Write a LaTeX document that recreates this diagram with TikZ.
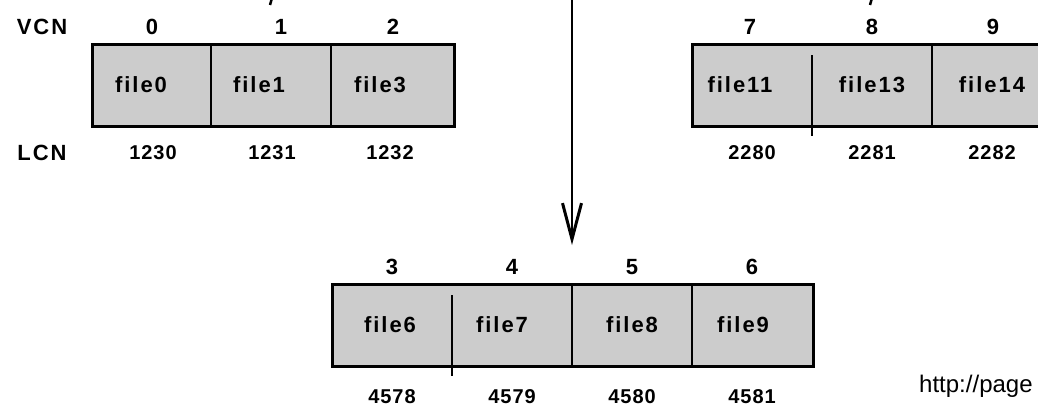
\documentclass[tikz,border=0pt]{standalone}
\usepackage{fontspec}
\setmainfont{Liberation Sans}
\newfontfamily\widesans[LetterSpace=9]{Liberation Sans}
\newfontfamily\numsans[LetterSpace=5]{Liberation Sans}
\usetikzlibrary{arrows.meta}
\definecolor{cellgray}{HTML}{CCCCCC}
\tikzset{
  runbox/.style={draw, line width=3pt, fill=cellgray, rectangle, inner sep=0pt, anchor=north west, minimum height=82pt},
  divider/.style={line width=1.6pt},
  lbl/.style={font=\widesans\fontsize{22}{25}\selectfont\bfseries, inner sep=0pt},
  lcnnum/.style={font=\numsans\fontsize{20}{23}\selectfont\bfseries, inner sep=0pt},
  tickmark/.style={line width=2.5pt},
  mapline/.style={line width=1.2pt, -{Straight Barb[length=36pt,width=19pt,line width=3pt]}},
}
\begin{document}
\begin{tikzpicture}[x=1pt, y=-1pt]
\useasboundingbox (0,0) rectangle (1038,407);
\clip (0,0) rectangle (1038,407);

% row captions
\node[lbl] (vcn) at (42,27) {VCN};
\node[lbl] (lcn) at (42,153) {LCN};

% first run: VCN 0-2
\node[runbox, minimum width=362pt] (runA) at (91,43) {};
\draw[divider] ([xshift=120pt]runA.north west) -- ([xshift=120pt]runA.south west);
\draw[divider] ([xshift=240pt]runA.north west) -- ([xshift=240pt]runA.south west);
\node[lbl] (v0) at (152,27) {0};
\node[lbl] (v1) at (281,27) {1};
\node[lbl] (v2) at (393,27) {2};
\node[lbl] (f0) at (141,85) {file0};
\node[lbl] (f1) at (259,85) {file1};
\node[lbl] (f3) at (380,85) {file3};
\node[lcnnum] (l1230) at (153,153) {1230};
\node[lcnnum] (l1231) at (272,153) {1231};
\node[lcnnum] (l1232) at (390,153) {1232};

% second run: VCN 7-9
\node[runbox, minimum width=362pt] (runB) at (691,43) {};
\draw[divider] ([xshift=121pt,yshift=-12pt]runB.north west) -- ([xshift=121pt,yshift=-8pt]runB.south west);
\draw[divider] ([xshift=241pt]runB.north west) -- ([xshift=241pt]runB.south west);
\node[lbl] (v7) at (750,27) {7};
\node[lbl] (v8) at (872,27) {8};
\node[lbl] (v9) at (993,27) {9};
\node[lbl] (f11) at (740,85) {file11};
\node[lbl] (f13) at (872,85) {file13};
\node[lbl] (f14) at (992,85) {file14};
\node[lcnnum] (l2280) at (752,153) {2280};
\node[lcnnum] (l2281) at (872,153) {2281};
\node[lcnnum] (l2282) at (992,153) {2282};

% third run: VCN 3-6
\node[runbox, minimum width=481pt] (runC) at (331,283) {};
\draw[divider] ([xshift=121pt,yshift=-12pt]runC.north west) -- ([xshift=121pt,yshift=-8pt]runC.south west);
\draw[divider] ([xshift=241pt]runC.north west) -- ([xshift=241pt]runC.south west);
\draw[divider] ([xshift=361pt]runC.north west) -- ([xshift=361pt]runC.south west);
\node[lbl] (v3) at (392,267) {3};
\node[lbl] (v4) at (512,267) {4};
\node[lbl] (v5) at (632,267) {5};
\node[lbl] (v6) at (752,267) {6};
\node[lbl] (f6) at (390,325) {file6};
\node[lbl] (f7) at (502,325) {file7};
\node[lbl] (f8) at (632,325) {file8};
\node[lbl] (f9) at (743,325) {file9};
\node[lcnnum] (l4578) at (392,397) {4578};
\node[lcnnum] (l4579) at (512,397) {4579};
\node[lcnnum] (l4580) at (632,397) {4580};
\node[lcnnum] (l4581) at (752,397) {4581};

% arrow ends entering from above
\coordinate (tickA) at (272,-2);
\coordinate (tickB) at (872,-2);
\draw[tickmark] (tickA) -- ++(-2,7);
\draw[tickmark] (tickB) -- ++(-2,7);

% mapping arrow down to the third run
\coordinate (arrTop) at (572,-5);
\coordinate (arrTip) at (572,245);
\draw[mapline] (arrTop) -- (arrTip);

% source note
\node[font=\fontsize{24}{28}\selectfont, anchor=west, inner sep=0pt] (src) at (919,386) {http://page};
\end{tikzpicture}
\end{document}
